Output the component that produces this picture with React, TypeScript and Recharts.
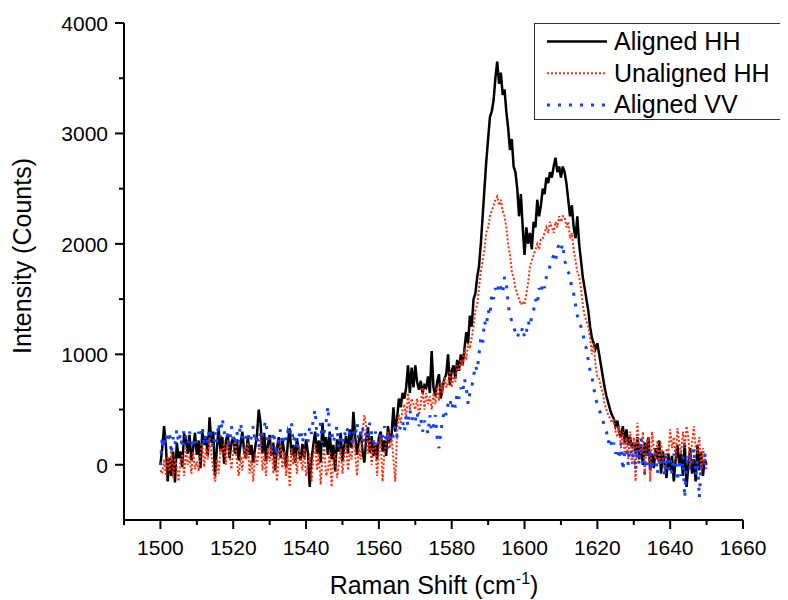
import React from 'react';
import { LineChart, Line, XAxis, YAxis, Legend, Label } from 'recharts';

// Raman spectra sampled every 0.5 cm-1 from 1500 to 1650 (10 values per line = 5 cm-1)
const SHIFT_START = 1500;
const SHIFT_STEP = 0.5;

const alignedHH = [
  0, 150, 350, 180, -150, 60, -100, 120, -160, 200,
  60, 120, -20, 280, 230, 100, 270, 40, 150, 290,
  90, 220, -30, 300, 180, 260, 80, 430, 200, 300,
  -100, 150, 330, 120, 250, 10, 220, 280, 60, 200,
  250, 100, 230, 40, 180, 300, 120, 60, 250, 90,
  180, 20, 150, 260, 500, 380, 100, 290, 30, 180,
  270, 80, 200, -50, 150, 250, 60, 230, 120, -20,
  200, 330, 90, 180, 20, 240, 120, 40, 190, 60,
  230, 110, -200, 50, 180, 300, 100, 220, 20, 380,
  160, 250, 90, 300, 50, 180, -60, 230, 120, 290,
  30, 170, 260, 100, 320, 150, 480, 250, 90, 220,
  300, 130, 20, 220, 340, 110, 260, 80, 200, 50,
  250, 300, 120, 220, 80, 350, 200, 280, 520, 300,
  420, 600, 520, 650, 600, 700, 900, 650, 880, 700,
  900, 750, 680, 760, 650, 720, 700, 800, 650, 1030,
  700, 620, 750, 820, 600, 700, 780, 820, 1000, 720,
  850, 900, 780, 950, 850, 1000, 900, 1050, 1200, 1100,
  1350, 1250, 1500, 1550, 1700, 1800, 2000, 2250, 2500, 2750,
  2950, 3150, 3200, 3300, 3500, 3650, 3450, 3550, 3350, 3400,
  3200, 3050, 2850, 2950, 2700, 2650, 2500, 2250, 2450, 2150,
  1900, 2150, 2000, 2100, 1950, 2200, 2150, 2400, 2250, 2350,
  2500, 2450, 2600, 2550, 2650, 2600, 2700, 2780, 2650, 2700,
  2600, 2700, 2650, 2550, 2400, 2250, 2350, 2150, 2050, 2250,
  2000, 1850, 1700, 1600, 1500, 1400, 1250, 1150, 1100, 1050,
  1100, 1000, 900, 800, 700, 620, 560, 500, 450, 420,
  350, 400, 300, 250, 350, 200, 320, 180, 250, 150,
  200, 100, 250, 50, 180, 0, 200, 80, 250, -50,
  100, -30, 150, 50, 220, -80, 120, 0, -120, 100,
  -50, 80, -150, 50, 180, 0, 100, -100, 200, -200,
  0, 150, -80, 50, -150, 180, -50, 120, -100, 50,
  0,
];

const unalignedHH = [
  -50, -80, 50, -100, 80, -60, 150, -120, 60, -30,
  -150, 40, 100, -100, 150, 0, 80, -80, 120, -40,
  30, -60, 100, 200, -20, 150, 50, 250, 100, -50,
  -150, 50, -80, 150, 100, 200, 0, 220, 80, -40,
  120, 250, 30, -100, 80, -50, 150, 50, 200, -80,
  50, -150, 100, 0, 120, 250, -50, 80, -100, 150,
  30, 200, -80, 100, -150, 50, 200, -30, 120, -100,
  80, -200, 150, 0, 100, -80, 180, 50, -50, 150,
  -100, 0, 100, -150, 80, 200, -50, 100, -180, 50,
  150, -100, -50, 120, -200, 50, 100, -120, 0, 150,
  -80, 80, 200, -50, 120, 50, 250, 100, -100, 150,
  50, 300, 450, 350, 100, 250, 0, 150, 200, -100,
  120, 250, -150, 100, 200, 300, 150, 250, 50, -150,
  300, 450, 380, 500, 550, 420, 650, 500, 600, 550,
  500, 600, 450, 550, 700, 500, 650, 550, 620, 500,
  650, 550, 700, 580, 750, 650, 800, 700, 750, 850,
  700, 800, 750, 900, 850, 950, 900, 1050, 950, 1100,
  1050, 1150, 1250, 1400, 1450, 1600, 1750, 1850, 1950, 2100,
  2150, 2250, 2300, 2350, 2400, 2430, 2350, 2400, 2300, 2250,
  2150, 2000, 1900, 1750, 1700, 1600, 1550, 1500, 1450, 1480,
  1450, 1550, 1650, 1800, 1850, 1900, 1950, 2000, 1950, 2050,
  2050, 2100, 2150, 2100, 2200, 2150, 2100, 2200, 2150, 2250,
  2200, 2250, 2250, 2150, 2200, 2050, 2100, 1950, 1850, 1750,
  1700, 1600, 1450, 1350, 1300, 1250, 1150, 1000, 1100, 900,
  800, 780, 700, 650, 550, 500, 450, 420, 380, 400,
  300, 250, 350, 150, 300, 100, 250, 50, 300, 0,
  250, -150, 380, 150, 100, 300, -100, 200, 250, -150,
  300, 150, 50, 220, 0, 200, 50, -50, 150, 100,
  320, 150, 250, 50, 330, 200, 100, 300, 150, 350,
  250, 0, 200, 350, 150, 100, 250, -50, 150, 50,
  -50,
];

const alignedVV = [
  0, 250, 150, 280, 200, 300, 100, 250, 180, 320,
  200, 280, 150, 320, 250, 180, 300, 220, 150, 250,
  200, 300, 250, 350, 180, 280, 200, 330, 250, 150,
  300, 200, 380, 250, 420, 300, 230, 280, 180, 350,
  250, 180, 300, 200, 380, 280, 150, 250, 300, 200,
  250, 350, 200, 280, 150, 300, 250, 350, 400, 200,
  250, 150, 300, 200, 80, 250, 320, 180, 280, 220,
  300, 250, 380, 200, 280, 150, 250, 320, 200, 300,
  250, 200, 350, 280, 420, 500, 250, 300, 380, 200,
  300, 380, 530, 250, 300, 200, 280, 350, 150, 250,
  200, 300, 250, 350, 280, 200, 300, 250, 380, 220,
  280, 350, 200, 300, 250, 380, 280, 200, 300, 250,
  180, 300, 250, 350, 200, 150, 280, 300, 250, 350,
  250, 300, 350, 400, 300, 450, 350, 500, 400, 450,
  400, 480, 350, 420, 300, 400, 350, 280, 450, 300,
  350, 450, 250, 150, 300, 400, 500, 450, 550, 600,
  500, 580, 520, 650, 600, 700, 650, 780, 700, 550,
  650, 700, 800, 900, 850, 1000, 1150, 1100, 1300, 1250,
  1400, 1350, 1550, 1500, 1600, 1550, 1650, 1600, 1550, 1700,
  1650, 1450, 1350, 1300, 1250, 1200, 1150, 1200, 1180, 1250,
  1150, 1200, 1300, 1250, 1350, 1400, 1500, 1450, 1600, 1550,
  1650, 1600, 1700, 1750, 1800, 1850, 1900, 1850, 1950, 2000,
  1950, 2000, 1850, 1800, 1750, 1700, 1600, 1550, 1450, 1350,
  1300, 1250, 1200, 1100, 1050, 950, 850, 800, 700, 600,
  550, 500, 450, 400, 350, 300, 200, 250, 150, 200,
  100, 150, 50, 200, -50, 100, 150, 0, 200, 50,
  100, -50, 150, 0, 250, 50, -80, 100, 0, 150,
  -50, 50, 100, -80, 80, 0, 50, -100, 100, -50,
  50, -80, 100, 0, -150, 50, -100, 80, -300, 0,
  100, -50, 0, 150, -100, 50, -300, 0, -50, 100,
  0,
];

const xTicks = [1490, 1500, 1510, 1520, 1530, 1540, 1550, 1560, 1570, 1580, 1590, 1600, 1610, 1620, 1630, 1640, 1650, 1660];
const xLabels = [1500, 1520, 1540, 1560, 1580, 1600, 1620, 1640, 1660];
const yTicks = [0, 500, 1000, 1500, 2000, 2500, 3000, 3500, 4000];
const yLabels = [0, 1000, 2000, 3000, 4000];

const series = [
  { key: 'alignedHH', name: 'Aligned HH', color: '#000000', width: 2.5, dash: undefined as string | undefined },
  { key: 'unalignedHH', name: 'Unaligned HH', color: '#ff2a0a', width: 2, dash: '2 2' },
  { key: 'alignedVV', name: 'Aligned VV', color: '#1040ff', width: 3, dash: '3 8' },
];

const data = alignedHH.map((v, i) => ({
  shift: SHIFT_START + i * SHIFT_STEP,
  alignedHH: v,
  unalignedHH: unalignedHH[i],
  alignedVV: alignedVV[i],
}));

const FONT = 'Arial, "Liberation Sans", sans-serif';

const XTick = ({ x, y, payload }: any) => {
  const major = xLabels.includes(payload.value);
  return (
    <g>
      <line x1={x} x2={x} y1={y} y2={y + (major ? 9 : 5)} stroke="#000" strokeWidth={2} />
      {major && (
        <text x={x} y={y + 35} textAnchor="middle" fontSize={21} fontFamily={FONT} fill="#000">
          {payload.value}
        </text>
      )}
    </g>
  );
};

const YTick = ({ x, y, payload }: any) => {
  const major = yLabels.includes(payload.value);
  return (
    <g>
      <line x1={x} x2={x - (major ? 9 : 5)} y1={y} y2={y} stroke="#000" strokeWidth={2} />
      {major && (
        <text x={x - 16} y={y + 8} textAnchor="end" fontSize={21} fontFamily={FONT} fill="#000">
          {payload.value}
        </text>
      )}
    </g>
  );
};

const LegendBox = () => (
  <div style={{ width: 254, height: 97, border: '1px solid #333', boxSizing: 'border-box', background: '#fff' }}>
    <svg width={252} height={95} style={{ display: 'block' }}>
      {series.map((s, i) => (
        <g key={s.key}>
          <line
            x1={12}
            x2={72}
            y1={17.5 + i * 31.7}
            y2={17.5 + i * 31.7}
            stroke={s.color}
            strokeWidth={s.width}
            strokeDasharray={s.dash}
          />
          <text x={79} y={26 + i * 31.7} fontSize={25} fontFamily={FONT} fill="#000">
            {s.name}
          </text>
        </g>
      ))}
    </svg>
  </div>
);

export default function App() {
  return (
    <LineChart width={780} height={600} data={data} margin={{ top: 15, right: 45, bottom: 87, left: 115 }}>
      <XAxis
        type="number"
        dataKey="shift"
        domain={[1490, 1660]}
        ticks={xTicks}
        interval={0}
        height={1}
        tickSize={0}
        tickMargin={0}
        tickLine={false}
        tick={(p: any) => <XTick {...p} />}
        axisLine={{ stroke: '#000', strokeWidth: 2 }}
        allowDataOverflow
      >
        <Label
          content={() => (
            <text x={426} y={586} textAnchor="middle" fontSize={25} fontFamily={FONT} fill="#000">
              Raman Shift (cm<tspan dy={-10} fontSize={16}>-1</tspan>
              <tspan dy={10}>)</tspan>
            </text>
          )}
        />
      </XAxis>
      <YAxis
        type="number"
        domain={[-500, 4000]}
        ticks={yTicks}
        interval={0}
        width={1}
        tickSize={0}
        tickMargin={0}
        tickLine={false}
        tick={(p: any) => <YTick {...p} />}
        axisLine={{ stroke: '#000', strokeWidth: 2 }}
        allowDataOverflow
      >
        <Label
          content={() => (
            <text
              x={23}
              y={248}
              transform="rotate(-90, 23, 248)"
              textAnchor="middle"
              fontSize={25}
              fontFamily={FONT}
              fill="#000"
            >
              Intensity (Counts)
            </text>
          )}
        />
      </YAxis>
      <Legend
        layout="vertical"
        align="center"
        verticalAlign="middle"
        content={() => <LegendBox />}
        wrapperStyle={{ top: 15, left: 526, width: 254, height: 97 }}
      />
      {series.map((s) => (
        <Line
          key={s.key}
          type="linear"
          dataKey={s.key}
          name={s.name}
          stroke={s.color}
          strokeWidth={s.width}
          strokeDasharray={s.dash}
          dot={false}
          activeDot={false}
          isAnimationActive={false}
        />
      ))}
    </LineChart>
  );
}
